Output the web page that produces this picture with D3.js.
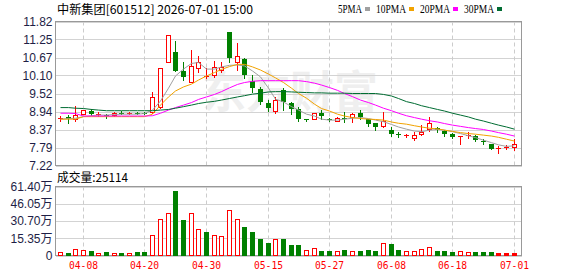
<!DOCTYPE html>
<html>
<head>
<meta charset="utf-8">
<script src="https://cdn.jsdelivr.net/npm/d3@7"></script>
<style>
body { margin: 0; background: #fff; }
svg { display: block; }
</style>
</head>
<body>
<script>
// daily K-line for 中新集团
const dates = ["04-02","04-03","04-07","04-08","04-09","04-10","04-13","04-14","04-15","04-16",
  "04-17","04-20","04-21","04-22","04-23","04-24","04-27","04-28","04-29","04-30",
  "05-06","05-07","05-08","05-11","05-12","05-13","05-14","05-15","05-18","05-19",
  "05-20","05-21","05-22","05-25","05-26","05-27","05-28","05-29","06-01","06-02",
  "06-03","06-04","06-05","06-08","06-09","06-10","06-11","06-12","06-15","06-16",
  "06-17","06-18","06-22","06-23","06-24","06-25","06-26","06-29","06-30","07-01"];

const openP = [8.72,8.78,8.69,8.87,8.96,8.84,8.84,8.82,8.91,8.89,
  8.90,8.91,8.94,9.10,10.54,10.83,10.24,9.88,10.35,10.05,
  10.11,10.27,11.47,10.54,10.62,9.93,9.65,9.22,8.97,9.63,
  9.22,9.04,8.70,8.72,8.90,8.70,8.65,8.73,8.76,8.90,
  8.70,8.58,8.48,8.35,8.22,8.18,8.11,8.22,8.40,8.42,
  8.33,8.24,8.15,8.17,8.16,8.01,7.92,7.76,7.81,7.81];
const closeP = [8.73,8.70,8.83,8.99,8.88,8.88,8.80,8.90,8.89,8.90,
  8.89,8.89,9.40,10.33,11.39,10.24,10.06,10.40,10.52,10.08,
  10.36,10.38,10.67,10.72,10.11,9.69,9.26,9.06,9.31,9.24,
  9.04,8.69,8.69,8.90,8.80,8.69,8.74,8.72,8.85,8.77,
  8.56,8.45,8.64,8.24,8.21,8.19,8.21,8.29,8.58,8.35,
  8.22,8.13,8.16,8.18,8.03,8.00,7.74,7.77,7.82,7.92];
const highP = [8.80,8.83,9.12,9.00,9.01,8.94,8.86,8.93,8.95,8.94,
  8.94,8.94,9.58,10.33,11.39,11.21,10.54,10.91,10.72,10.34,
  10.57,10.52,11.47,11.13,10.65,10.11,9.74,9.31,9.40,9.71,
  9.26,9.09,8.72,8.90,8.99,8.75,8.76,8.94,8.90,8.99,
  8.70,8.58,8.94,8.45,8.29,8.24,8.28,8.51,8.78,8.45,
  8.35,8.26,8.16,8.28,8.19,8.08,7.92,7.85,7.86,8.08];
const lowP = [8.64,8.58,8.65,8.85,8.83,8.79,8.75,8.80,8.86,8.86,
  8.86,8.86,8.90,9.05,10.54,10.24,9.95,9.88,10.22,10.03,
  10.06,10.22,10.54,10.27,10.01,9.58,9.20,8.96,8.90,9.00,
  8.88,8.65,8.65,8.72,8.72,8.63,8.64,8.61,8.61,8.72,
  8.47,8.35,8.46,8.16,8.13,8.13,8.03,8.18,8.33,8.29,
  8.15,8.10,7.92,8.09,8.00,7.92,7.74,7.62,7.76,7.73];

const volume = [33000,18000,60000,51000,44000,24000,27000,24000,18000,24000,
  27000,27000,184000,326000,380000,570000,320000,380000,237000,213000,
  184000,175000,407000,326000,258000,213000,151000,107000,151000,145000,
  89000,89000,51000,71000,44000,44000,44000,53000,44000,44000,
  53000,44000,107000,100000,53000,36000,36000,62000,80000,44000,
  36000,27000,42000,27000,27000,27000,27000,23000,23000,25114];
// u = rising (hollow red), d = falling (green), s = solid red
const volKind = ("uduudududu" + "dduuudduud" + "uuuuddddud" +
  "dduuddudud" + "ddudduuuud" + "dduudddsss").split("");

const ma5 = [8.70,8.72,8.73,8.78,8.81,8.83,8.83,8.85,8.86,8.86,
  8.86,8.88,8.99,9.28,9.69,10.08,10.30,10.48,10.51,10.30,
  10.30,10.37,10.42,10.43,10.40,10.24,10.05,9.69,9.34,9.25,
  9.10,8.99,8.86,8.80,8.70,8.67,8.67,8.70,8.73,8.75,
  8.72,8.67,8.62,8.53,8.45,8.38,8.32,8.30,8.35,8.37,
  8.35,8.30,8.24,8.17,8.11,8.03,7.95,7.88,7.83,7.85];
const ma10 = [8.70,8.70,8.70,8.78,8.78,8.78,8.78,8.78,8.78,8.78,
  8.78,8.78,8.86,9.15,9.41,9.60,9.73,9.82,9.95,10.08,
  10.19,10.29,10.38,10.45,10.45,10.37,10.27,10.14,10.02,9.87,
  9.69,9.52,9.37,9.18,9.04,8.96,8.86,8.80,8.75,8.72,
  8.70,8.69,8.67,8.61,8.57,8.54,8.49,8.45,8.41,8.39,
  8.35,8.31,8.27,8.24,8.22,8.19,8.16,8.12,8.06,8.00];
const ma20 = [8.89,8.89,8.88,8.80,8.80,8.80,8.80,8.80,8.80,8.80,
  8.80,8.80,8.81,8.89,8.99,9.07,9.15,9.23,9.33,9.41,
  9.49,9.58,9.70,9.81,9.87,9.91,9.93,9.93,9.93,9.93,
  9.93,9.93,9.90,9.85,9.79,9.71,9.62,9.52,9.42,9.31,
  9.23,9.15,9.05,8.97,8.89,8.81,8.75,8.70,8.65,8.61,
  8.56,8.51,8.47,8.43,8.40,8.37,8.32,8.27,8.22,8.16];
const ma30 = [9.07,9.07,9.05,9.04,9.01,8.99,8.97,8.97,8.97,8.97,
  8.97,8.97,8.97,8.99,9.01,9.05,9.10,9.15,9.20,9.24,
  9.27,9.31,9.36,9.41,9.45,9.50,9.53,9.57,9.58,9.58,
  9.57,9.56,9.55,9.54,9.54,9.53,9.53,9.53,9.52,9.52,
  9.52,9.52,9.49,9.44,9.36,9.26,9.20,9.13,9.07,9.01,
  8.96,8.89,8.83,8.77,8.70,8.64,8.57,8.51,8.45,8.38];

const priceTicks = [11.82,11.25,10.67,10.10,9.52,8.94,8.37,7.79,7.22];
const volTicks = [0,153500,307000,460500,614000];
const dateTicks = ["04-08","04-20","04-30","05-15","05-27","06-08","06-18","07-01"];
const maNames = ["5PMA","10PMA","20PMA","30PMA"];

const maSeries = [ma5, ma10, ma20, ma30];
const maColors = ["#a0a0a0","#f2a300","#ff00ff","#006c32"];
const red = "#ff0000", green = "#008000";

const w = 578, h = 276;
const left = 55.5, right = 521.5;

const svg = d3.select("body").append("svg")
  .attr("width", w)
  .attr("height", h)
  .style("background-color", "white");

const x = d3.scaleBand().domain(d3.range(dates.length)).range([56.5, 518]);
const cx = i => Math.floor(x(i) + x.bandwidth() / 2);
const y = d3.scaleLinear().domain([7.22, 11.82]).range([165.5, 21.5]);
const yv = d3.scaleLinear().domain([0, 614000]).range([255.5, 186.5]);

// watermark
svg.append("text")
  .attr("x", 290).attr("y", 108)
  .attr("text-anchor", "middle")
  .attr("font-family", "Noto Sans CJK SC, sans-serif")
  .attr("font-size", 44)
  .attr("font-weight", "bold")
  .attr("fill", "#efefef")
  .text("东方财富");

// y axes with horizontal grid
const priceAxis = svg.append("g")
  .attr("transform", `translate(${left},0)`)
  .call(d3.axisLeft(y).tickValues(priceTicks).tickFormat(d3.format(".2f"))
    .tickSize(-(right - left)).tickPadding(3));

const volAxis = svg.append("g")
  .attr("transform", `translate(${left},0)`)
  .call(d3.axisLeft(yv).tickValues(volTicks)
    .tickFormat(d => d === 0 ? "0" : (d / 10000).toFixed(2) + "万")
    .tickSize(-(right - left)).tickPadding(3));

[priceAxis, volAxis].forEach(g => {
  g.attr("font-family", "Liberation Sans, Arial, Noto Sans CJK SC, sans-serif")
   .attr("font-size", 12);
  g.select(".domain").remove();
  g.selectAll("line").attr("stroke", "#d3d3d3").attr("shape-rendering", "crispEdges");
  g.selectAll("text").attr("fill", "#1e1e46");
});

// dashed verticals at the date ticks
const tickIdx = dateTicks.map(d => dates.indexOf(d));
[[21.5, 165.5], [186.5, 255.5]].forEach(([y0, y1]) => {
  svg.append("g").selectAll("line")
    .data(tickIdx)
    .enter()
    .append("line")
    .attr("x1", i => cx(i) + 0.5).attr("x2", i => cx(i) + 0.5)
    .attr("y1", y0).attr("y2", y1)
    .attr("stroke", "#cccccc")
    .attr("stroke-dasharray", "4,3");
});

// frames
[[21.5, 165.5], [186.5, 255.5]].forEach(([y0, y1]) => {
  svg.append("rect")
    .attr("x", left).attr("y", y0)
    .attr("width", right - left).attr("height", y1 - y0)
    .attr("fill", "none")
    .attr("stroke", "#999")
    .attr("shape-rendering", "crispEdges");
});

// candles
const candles = svg.append("g").attr("shape-rendering", "crispEdges");
d3.range(dates.length).forEach(i => {
  const o = openP[i], c = closeP[i];
  const up = c >= o;
  const col = up ? red : green;
  const px = cx(i);
  candles.append("line")
    .attr("x1", px + 0.5).attr("x2", px + 0.5)
    .attr("y1", Math.round(y(highP[i]))).attr("y2", Math.round(y(lowP[i])) + 1)
    .attr("stroke", col);
  const top = Math.round(y(Math.max(o, c)));
  const bot = Math.round(y(Math.min(o, c)));
  if (up && bot - top >= 2) {
    candles.append("rect")
      .attr("x", px - 1.5).attr("y", top + 0.5)
      .attr("width", 4).attr("height", bot - top)
      .attr("fill", "white").attr("stroke", red);
  } else {
    candles.append("rect")
      .attr("x", px - 2).attr("y", top)
      .attr("width", 5).attr("height", Math.max(1, bot - top))
      .attr("fill", col);
  }
});

// moving averages
const line = d3.line().x((d, i) => cx(i) + 0.5).y(d => y(d));
maSeries.forEach((s, k) => {
  svg.append("path")
    .datum(s)
    .attr("d", line)
    .attr("fill", "none")
    .attr("stroke", maColors[k])
    .attr("stroke-width", 1);
});

// volume bars
const vols = svg.append("g").attr("shape-rendering", "crispEdges");
volume.forEach((v, i) => {
  const px = cx(i);
  const top = Math.round(yv(v));
  if (volKind[i] === "u") {
    vols.append("rect")
      .attr("x", px - 1.5).attr("y", top + 0.5)
      .attr("width", 4).attr("height", 255 - top - 0.5)
      .attr("fill", "white").attr("stroke", red);
  } else {
    vols.append("rect")
      .attr("x", px - 2).attr("y", top)
      .attr("width", 5).attr("height", 255.5 - top)
      .attr("fill", volKind[i] === "d" ? green : red);
  }
});

// date axis
const xAxis = svg.append("g")
  .attr("transform", "translate(0,258)")
  .call(d3.axisBottom(x).tickValues(tickIdx).tickFormat(i => dates[i]).tickSize(0).tickPadding(3));
xAxis.select(".domain").remove();
xAxis.attr("font-family", "DejaVu Sans Mono, monospace").attr("font-size", 11);
xAxis.selectAll(".tick").attr("transform", i => `translate(${cx(i) + 0.5},0)`);
xAxis.selectAll("text")
  .attr("fill", red)
  .attr("textLength", 29)
  .attr("lengthAdjust", "spacingAndGlyphs");

// title and legend
svg.append("text")
  .attr("x", 57).attr("y", 14)
  .attr("font-family", "Noto Sans CJK SC, sans-serif")
  .attr("font-size", 12)
  .attr("textLength", 196)
  .attr("lengthAdjust", "spacingAndGlyphs")
  .text("中新集团[601512] 2026-07-01 15:00");

let lx = 338;
maNames.forEach((name, k) => {
  const tw = name.length * 6;
  svg.append("text")
    .attr("x", lx).attr("y", 13)
    .attr("font-family", "Liberation Serif, serif")
    .attr("font-size", 12)
    .attr("textLength", tw)
    .attr("lengthAdjust", "spacingAndGlyphs")
    .text(name);
  svg.append("rect")
    .attr("x", lx + tw + 3).attr("y", 7)
    .attr("width", 5).attr("height", 4)
    .attr("fill", maColors[k]);
  lx += tw + 3 + 5 + 6;
});

svg.append("text")
  .attr("x", 57).attr("y", 182)
  .attr("font-family", "Noto Sans CJK SC, sans-serif")
  .attr("font-size", 12)
  .attr("textLength", 71)
  .attr("lengthAdjust", "spacingAndGlyphs")
  .text("成交量:" + volume[volume.length - 1]);
</script>
</body>
</html>
